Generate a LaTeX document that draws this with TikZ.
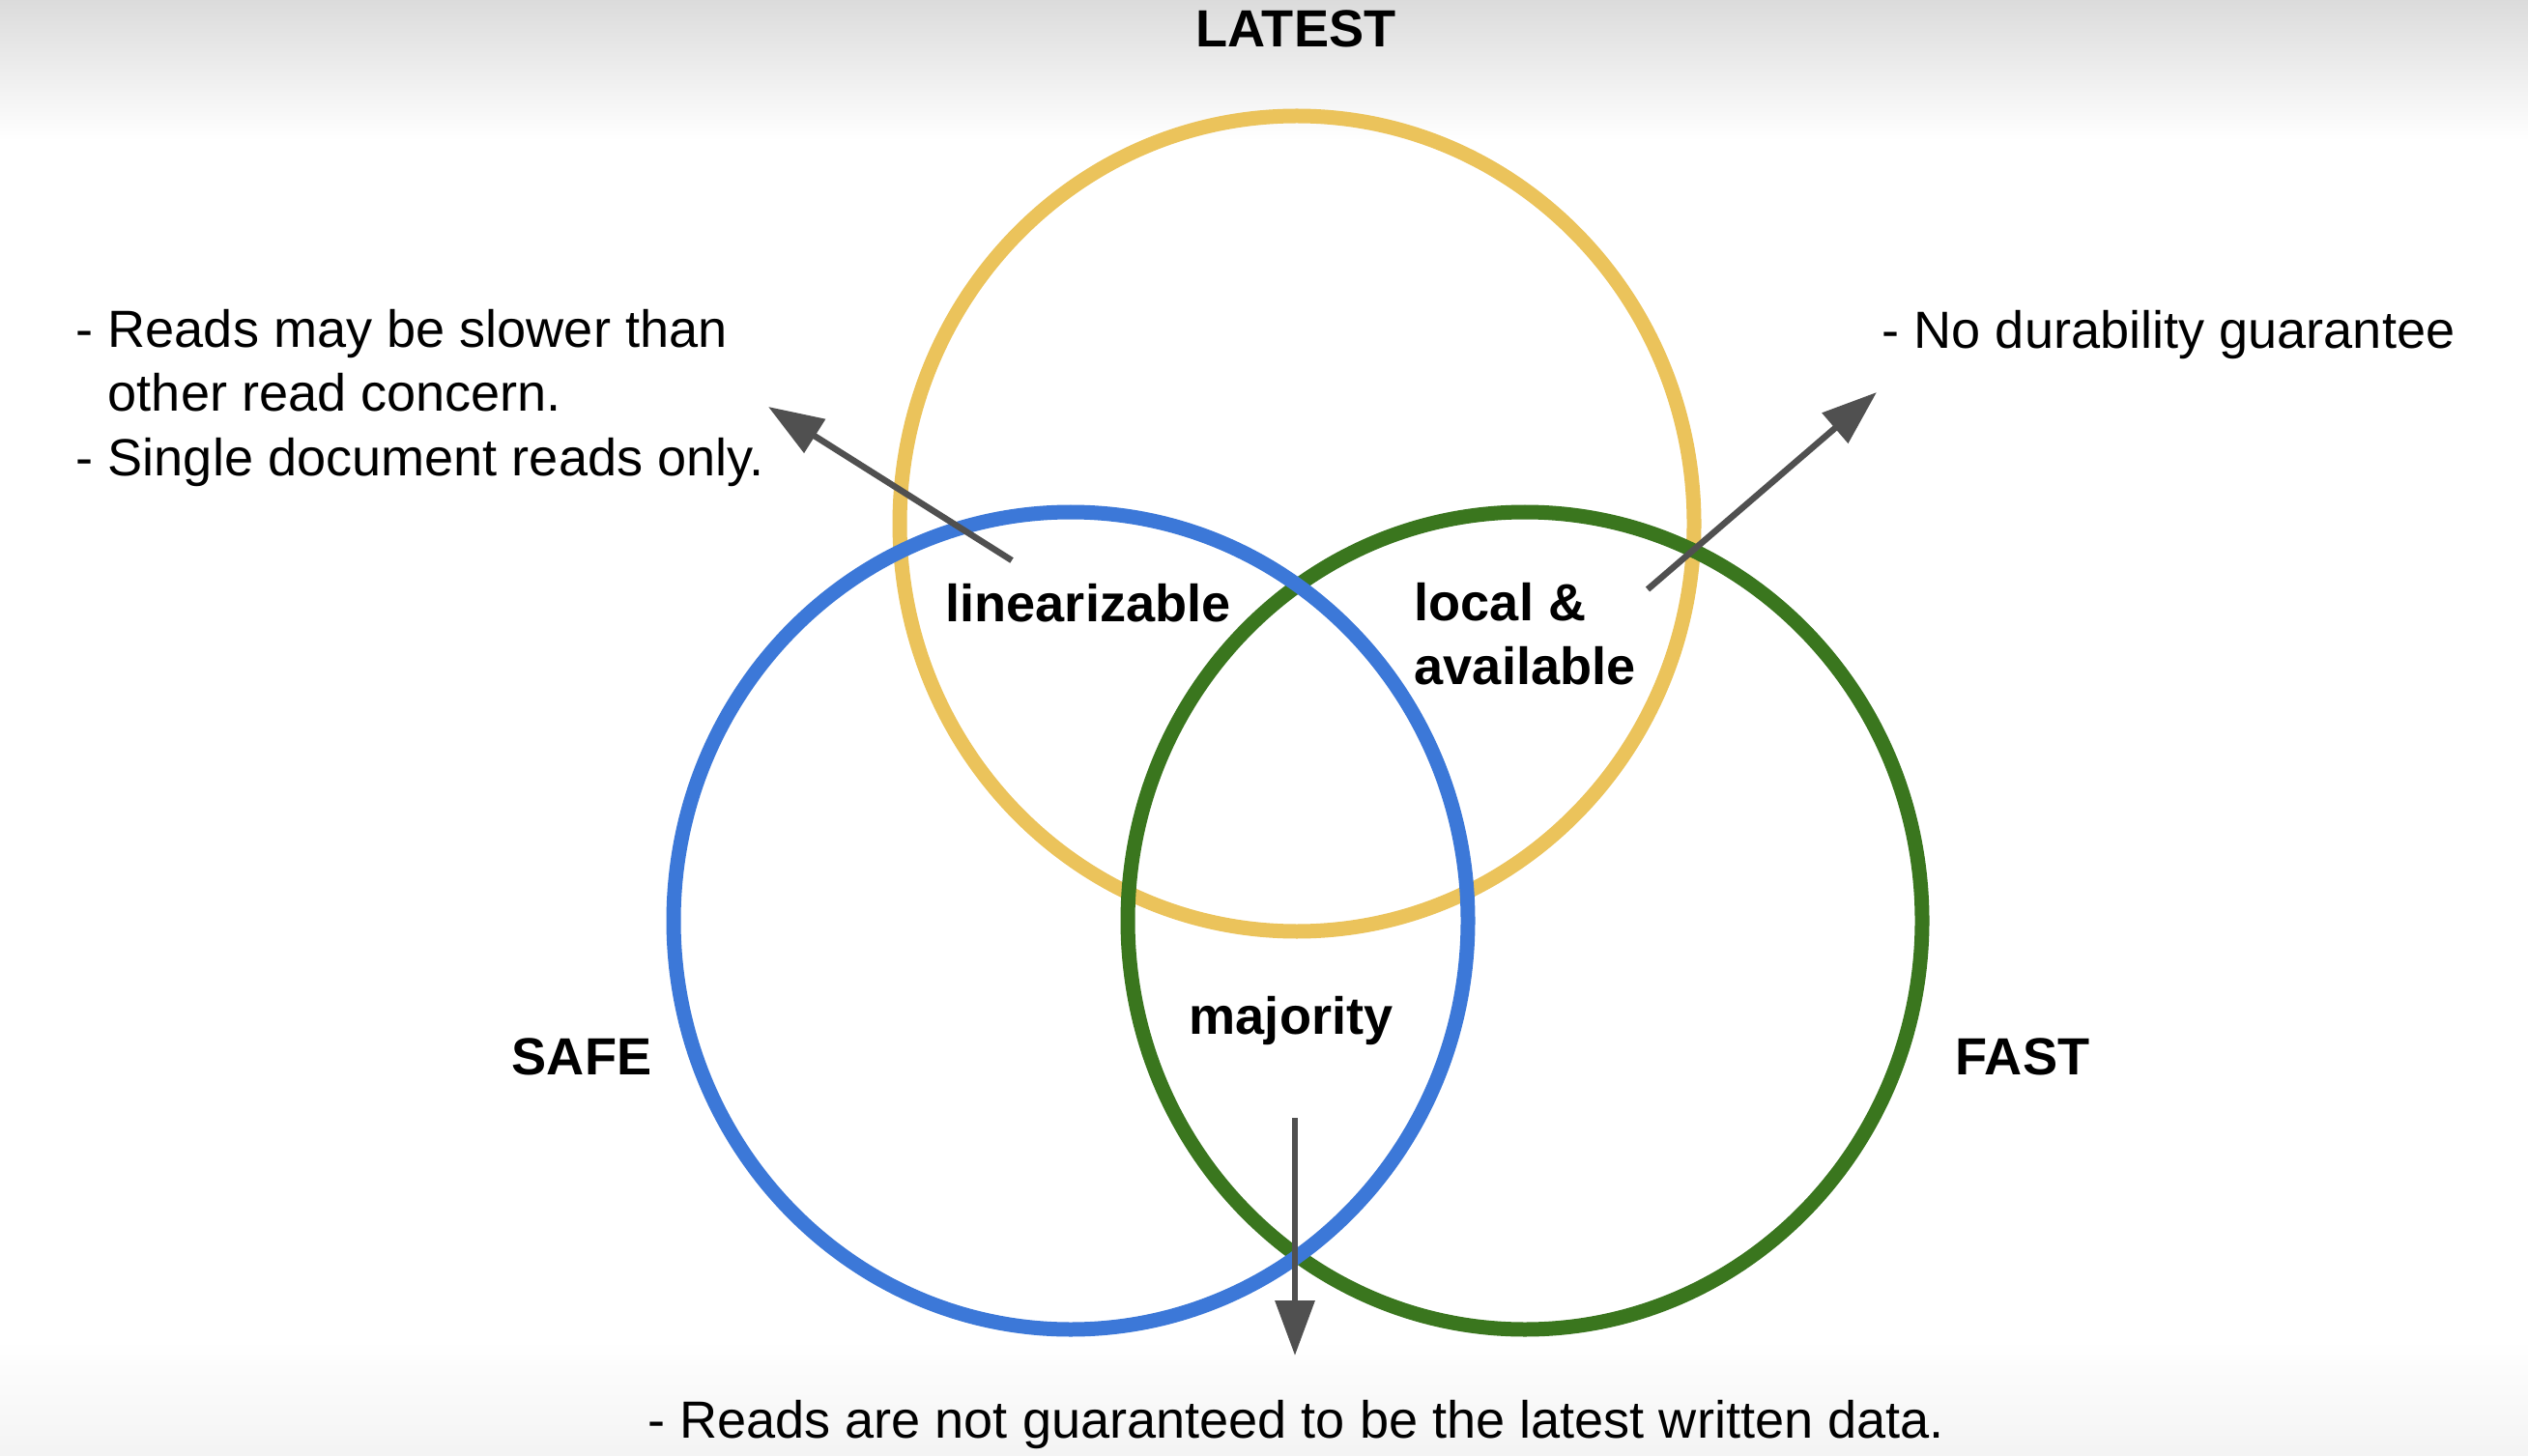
\documentclass[tikz,border=0pt]{standalone}
\usepackage{fontspec}
\setmainfont{Liberation Sans}
\usepackage{tikz}
\usetikzlibrary{arrows.meta, positioning}
\definecolor{ringyellow}{HTML}{EBC35B}
\definecolor{ringblue}{HTML}{3C78D8}
\definecolor{ringgreen}{HTML}{3A761E}
\definecolor{pointergray}{HTML}{505050}

\begin{document}
\begin{tikzpicture}[
    ring/.style={line width=0.15cm},
    tag/.style={font=\fontsize{15.4}{18.8}\selectfont\bfseries, inner sep=0pt},
    note/.style={font=\fontsize{15.4}{18.8}\selectfont, inner sep=0pt, align=left},
    pointer/.style={pointergray, line width=0.065cm, -{Triangle[length=5.7mm, width=4mm]}}
  ]
        \useasboundingbox (0, 0) rectangle (26.16, 15.06);
        \fill[white] (0, 0) rectangle (26.16, 15.06);
        \shade[top color=gray!28, bottom color=white] (0, 13.6) rectangle (26.16, 15.06);
        \shade[top color=white, bottom color=gray!9] (0, 0) rectangle (26.16, 1.2);

        \draw[ring, ringyellow] (13.42, 9.64) ellipse [x radius=4.11, y radius=4.22];
        \draw[ring, ringgreen] (15.78, 5.53) ellipse [x radius=4.11, y radius=4.23];
        \draw[ring, ringblue] (11.08, 5.53) ellipse [x radius=4.11, y radius=4.23];

        \node[tag] (latest) at (13.41, 14.76) {LATEST};
        \node[tag] (safe) at (6.02, 4.12) {SAFE};
        \node[tag] (fast) at (20.93, 4.12) {FAST};

        \node[tag] (lin) at (11.26, 8.82) {linearizable};
        \node[tag, align=left, anchor=west] (local) at (14.63, 8.50) {local \&\\available};
        \node[tag] (maj) at (13.36, 4.49) {majority};

        \node[note, anchor=west] (linnote) at (0.78, 10.94)
          {- Reads may be slower than\\\phantom{- }other read concern.\\- Single document reads only.};
        \node[note, anchor=west] (localnote) at (19.47, 11.59) {- No durability guarantee};
        \node[note] (majnote) at (13.41, 0.32) {- Reads are not guaranteed to be the latest written data.};

        \coordinate (linfrom) at (10.47, 9.26);
        \coordinate (linto) at (7.95, 10.85);
        \coordinate (localfrom) at (17.05, 8.96);
        \coordinate (localto) at (19.42, 11.00);
        \coordinate (majfrom) at (13.40, 3.49);
        \coordinate (majto) at (13.40, 1.03);

        \draw[pointer] (linfrom) -- (linto);
        \draw[pointer] (localfrom) -- (localto);
        \draw[pointer] (majfrom) -- (majto);
      \end{tikzpicture}
\end{document}
